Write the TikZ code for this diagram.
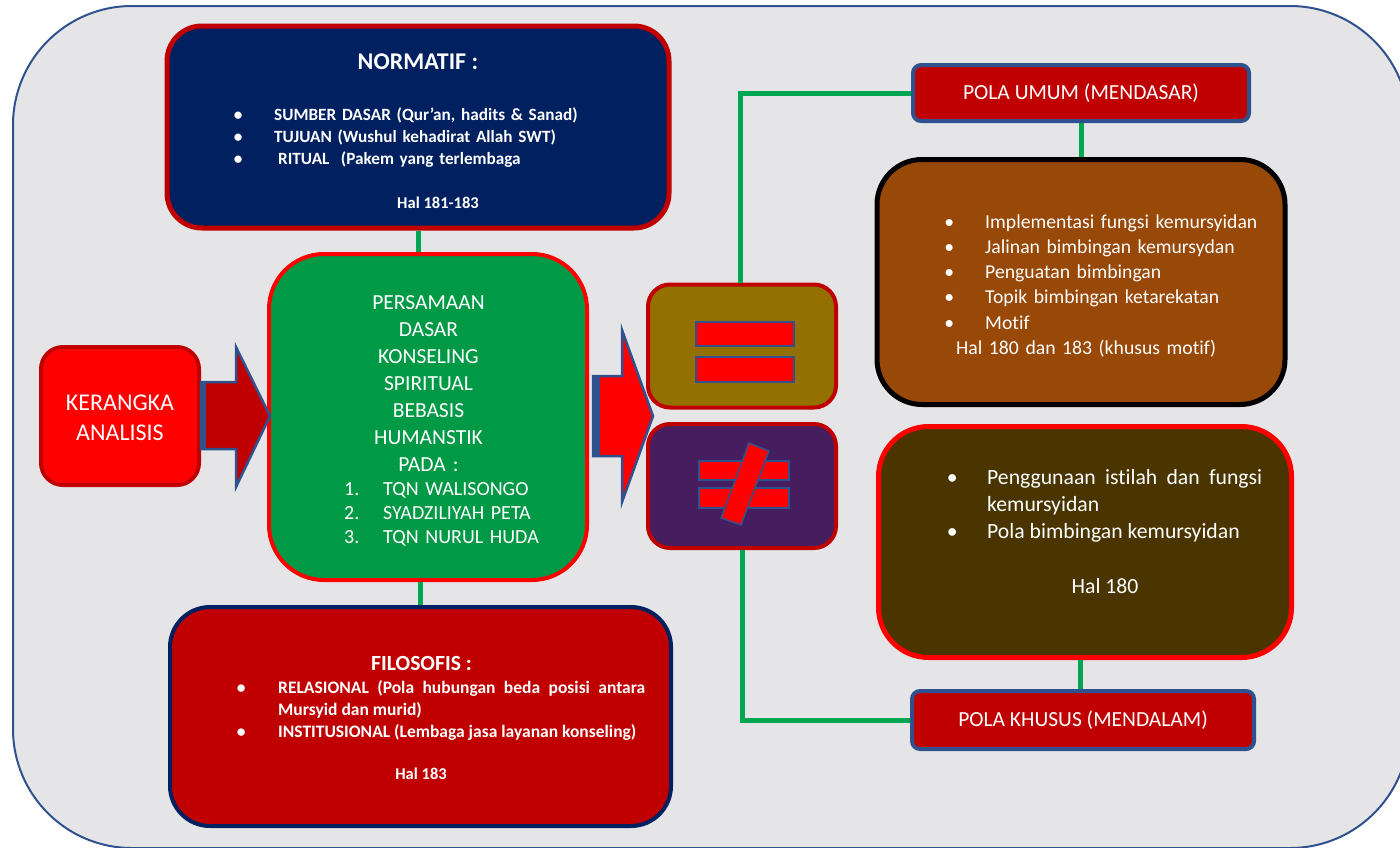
\documentclass[tikz,border=0pt]{standalone}
\usepackage{fontspec}
\setmainfont{Carlito}[Ligatures=NoCommon]
\usetikzlibrary{positioning}
\definecolor{navy}{HTML}{002060}
\definecolor{merahtua}{HTML}{C00000}
\definecolor{merah}{HTML}{FF0000}
\definecolor{hijau}{HTML}{009A46}
\definecolor{hijaugaris}{HTML}{00A651}
\definecolor{zaitun}{HTML}{947000}
\definecolor{ungu}{HTML}{461E5F}
\definecolor{coklat}{HTML}{984807}
\definecolor{coklattua}{HTML}{4A3500}
\definecolor{biru}{HTML}{2F528F}
\definecolor{marmer}{HTML}{E5E5E8}
\tikzset{panel/.style={rectangle,inner sep=0pt,line width=4pt}}
\tikzset{polabox/.style={panel,fill=merahtua,draw=biru,rounded corners=8pt,
text=white,font=\fontsize{21.5}{26}\selectfont}}
\tikzset{isi/.style={text=white,inner sep=0pt}}
\tikzset{link/.style={draw=hijaugaris,line width=5pt}}
\tikzset{tanda/.style={fill=merah,draw=biru,line width=1.5pt}}
\tikzset{panah/.style={draw=biru,line width=2.5pt,line join=miter}}
\newcommand{\butir}[2]{\noindent\hangindent=#1\hangafter=1\makebox[#1][l]{\makebox[0pt]{\textbullet}}#2\par}

\begin{document}
\begin{tikzpicture}[x=1pt,y=-1pt]
    \useasboundingbox (0,0) rectangle (1400,847);
    % latar marmer
    \draw[fill=marmer,draw=biru,line width=2pt,rounded corners=119pt] (13,6) rectangle (1409,848);

    % kotak-kotak
    \node[panel,fill=navy,draw=merahtua,line width=5pt,rounded corners=35pt,
        minimum width=502pt,minimum height=202pt] (normbox) at (418,127) {};
    \node[panel,fill=hijau,draw=merah,rounded corners=55pt,
        minimum width=318pt,minimum height=326pt] (dasarbox) at (428,417) {};
    \node[panel,fill=merah,draw=merahtua,rounded corners=22pt,
        minimum width=158pt,minimum height=138pt] (kerangka) at (120,416) {};
    \node[panel,fill=zaitun,draw=merahtua,rounded corners=22pt,
        minimum width=188pt,minimum height=123pt] (samabox) at (742,346) {};
    \node[panel,fill=ungu,draw=merahtua,rounded corners=22pt,
        minimum width=188pt,minimum height=124pt] (bedabox) at (742,486) {};
    \node[polabox,minimum width=336pt,minimum height=56pt] (umumbox) at (1081,93) {POLA UMUM (MENDASAR)};
    \node[panel,fill=coklat,draw=black,line width=5pt,rounded corners=45pt,
        minimum width=408pt,minimum height=245pt] (umumisi) at (1081,282) {};
    \node[panel,fill=coklattua,draw=merah,line width=5pt,rounded corners=50pt,
        minimum width=413pt,minimum height=231pt] (khususisi) at (1085,542) {};
    \node[polabox,minimum width=342pt,minimum height=58pt] (khususbox) at (1083,720) {POLA KHUSUS (MENDALAM)};
    \node[panel,fill=merahtua,draw=navy,rounded corners=40pt,
        minimum width=501pt,minimum height=219pt] (filobox) at (420.5,716.5) {};

    % panah blok
    \draw[panah,fill=merahtua] (201,382) -- (236,382) -- (236,347) -- (270,416)
        -- (236,487) -- (236,449) -- (201,449) -- cycle;
    \draw[biru,line width=5pt] (203,382) -- (203,449);
    \draw[panah,fill=merah] (593,376) -- (622,376) -- (622,330) -- (653,416)
        -- (622,502) -- (622,456) -- (593,456) -- cycle;
    \draw[biru,line width=7pt] (596,376) -- (596,456);

    % tanda sama dan tidak sama
    \draw[tanda] (696,322) rectangle (794,346);
    \draw[tanda] (696,357) rectangle (794,382);
    \draw[tanda] (699,461) rectangle (789,480);
    \draw[tanda] (699,488) rectangle (789,508);
    \draw[tanda] (749,443) -- (769,451) -- (741,525) -- (721,518) -- cycle;

    % garis penghubung
    \draw[link] (normbox.south) -- (normbox.south |- dasarbox.north);
    \draw[link] (dasarbox.south -| filobox.north) -- (filobox.north);
    \draw[link] ([xshift=-2pt]samabox.north) |- (umumbox.west);
    \draw[link] (umumbox.south) -- (umumbox.south |- umumisi.north);
    \draw[link] (bedabox.south) |- (khususbox.west);
    \draw[link] ([xshift=-5pt]khususisi.south) -- ([xshift=-5pt]khususisi.south |- khususbox.north);

    % teks
    \node[isi,anchor=base,text width=150pt,align=center,font=\fontsize{24}{30}\selectfont]
        (kerangkateks) at (120,410) {KERANGKA\\ANALISIS};

    \node[isi,anchor=base,font=\bfseries\fontsize{24}{29}\selectfont] (normjudul) at (418,69.7) {NORMATIF :};
    \node[isi,anchor=base west,text width=380pt,align=left,font=\bfseries\fontsize{17.2}{22}\selectfont]
        (normdaftar) at (238,120.6) {\butir{36pt}{SUMBER DASAR (Qur’an, hadits \& Sanad)}%
        \butir{36pt}{TUJUAN (Wushul kehadirat Allah SWT)}%
        \butir{36pt}{\hspace*{4pt}RITUAL\ \ (Pakem yang terlembaga}};
    \node[isi,anchor=base,font=\bfseries\fontsize{16.5}{20}\selectfont] (normhal) at (438,208.3) {Hal 181-183};

    \node[isi,anchor=base,text width=300pt,align=center,font=\fontsize{21.5}{27}\selectfont]
        (dasarteks) at (428.5,309) {PERSAMAAN\\DASAR\\KONSELING\\SPIRITUAL\\BEBASIS\\HUMANSTIK\\PADA :};
    \node[isi,anchor=base west,text width=230pt,align=left,font=\fontsize{20}{24}\selectfont]
        (dasarnomor) at (344,495) {\makebox[39pt][l]{1.}TQN WALISONGO\\
        \makebox[39pt][l]{2.}SYADZILIYAH PETA\\
        \makebox[39pt][l]{3.}TQN NURUL HUDA};

    \node[isi,anchor=base west,text width=330pt,align=left,font=\fontsize{19.7}{25.2}\selectfont]
        (umumdaftar) at (949,228.3) {\butir{36pt}{Implementasi fungsi kemursyidan}%
        \butir{36pt}{Jalinan bimbingan kemursydan}%
        \butir{36pt}{Penguatan bimbingan}%
        \butir{36pt}{Topik bimbingan ketarekatan}%
        \butir{36pt}{Motif}%
        \noindent\hspace*{7pt}Hal 180 dan 183 (khusus motif)};

    \node[isi,anchor=base west,text width=310pt,align=justify,font=\fontsize{21.7}{27.3}\selectfont]
        (khususdaftar) at (952,484) {\butir{35pt}{Penggunaan istilah dan fungsi kemursyidan}%
        \butir{35pt}{Pola bimbingan kemursyidan}};
    \node[isi,anchor=base,font=\fontsize{21.7}{26}\selectfont] (khusushal) at (1105,593) {Hal 180};

    \node[isi,anchor=base,font=\bfseries\fontsize{21.6}{26}\selectfont] (filojudul) at (421.5,670) {FILOSOFIS :};
    \node[isi,anchor=base west,text width=404pt,align=justify,font=\bfseries\fontsize{17.5}{22}\selectfont]
        (filodaftar) at (241,693.6) {\butir{37pt}{RELASIONAL (Pola hubungan beda posisi antara Mursyid dan murid)}%
        \butir{37pt}{INSTITUSIONAL (Lembaga jasa layanan konseling)}};
    \node[isi,anchor=base,font=\bfseries\fontsize{16.5}{20}\selectfont] (filohal) at (421,779.3) {Hal 183};
\end{tikzpicture}
\end{document}
